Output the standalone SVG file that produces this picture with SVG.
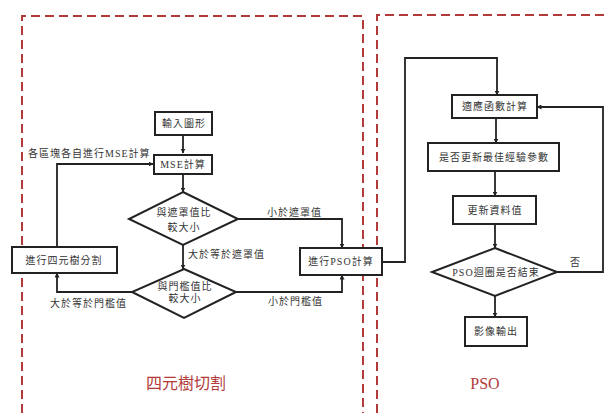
<svg xmlns="http://www.w3.org/2000/svg" width="608" height="413" viewBox="0 0 608 413">
<style>
.bg{fill:#ffffff}
.panel{fill:none;stroke:#b23a3a;stroke-width:2;stroke-dasharray:9 5}
.box{fill:#ffffff;stroke:#222;stroke-width:2}
.edge{fill:none;stroke:#222;stroke-width:1.8}
.t{font-family:'Liberation Serif','Noto Sans CJK TC',serif;font-size:10px;fill:#333;text-anchor:middle;letter-spacing:1px}
.lbl{font-family:'Liberation Serif','Noto Sans CJK TC',serif;font-size:10px;fill:#333;letter-spacing:1px}
.title{font-family:'Liberation Serif','Noto Sans CJK TC',serif;font-size:16px;fill:#b23a3a;text-anchor:middle}
</style>
<defs>
<marker id="ah" viewBox="0 0 10 10" refX="9" refY="5" markerWidth="5" markerHeight="5" orient="auto" markerUnits="userSpaceOnUse">
<path d="M0,0 L10,5 L0,10 z" fill="#222"/>
</marker>
</defs>
<rect class="bg" width="608" height="413"/>
<g id="panels">
<path class="panel" d="M22,413 V16 H363 V413"/>
<path class="panel" d="M377,413 V15 H608"/>
<text class="title" x="186" y="389">四元樹切割</text>
<text class="title" x="485" y="389" font-family="Liberation Serif, serif">PSO</text>
</g>
<g id="connectors">
<path class="edge" d="M183,135 V153" marker-end="url(#ah)"/>
<path class="edge" d="M183,174 V192" marker-end="url(#ah)"/>
<path class="edge" d="M183,245 V269" marker-end="url(#ah)"/>
<path class="edge" d="M238,219 H342 V248" marker-end="url(#ah)"/>
<path class="edge" d="M236,292 H342 V275" marker-end="url(#ah)"/>
<path class="edge" d="M132,292 H57 V273" marker-end="url(#ah)"/>
<path class="edge" d="M57,247 V164 H153" marker-end="url(#ah)"/>
<path class="edge" d="M382,262 H405 V58 H497 V95" marker-end="url(#ah)"/>
<path class="edge" d="M496,118 V143" marker-end="url(#ah)"/>
<path class="edge" d="M495,171 V196" marker-end="url(#ah)"/>
<path class="edge" d="M495,224 V248" marker-end="url(#ah)"/>
<path class="edge" d="M495,296 V317" marker-end="url(#ah)"/>
<path class="edge" d="M557,272 H603 V107 H537" marker-end="url(#ah)"/>
<text class="lbl" x="28" y="157">各區塊各自進行MSE計算</text>
<text class="lbl" x="267" y="216">小於遮罩值</text>
<text class="lbl" x="188" y="258">大於等於遮罩值</text>
<text class="lbl" x="268" y="305">小於門檻值</text>
<text class="lbl" x="50" y="307">大於等於門檻值</text>
<text class="lbl" x="570" y="266">否</text>
</g>
<g id="n_input"><rect class="box" x="155" y="112" width="57" height="23"/><text class="t" x="184" y="127">輸入圖形</text></g>
<g id="n_mse"><rect class="box" x="154" y="155" width="58" height="19"/><text class="t" x="183" y="168">MSE計算</text></g>
<g id="n_mask"><polygon class="box" points="183,192 238,219 183,245 129,219"/><text class="t" x="184" y="216">與遮罩值比</text><text class="t" x="184" y="231">較大小</text></g>
<g id="n_thresh"><polygon class="box" points="184,269 236,292 184,318 132,292"/><text class="t" x="185" y="290">與門檻值比</text><text class="t" x="185" y="302">較大小</text></g>
<g id="n_quad"><rect class="box" x="12" y="247" width="105" height="26"/><text class="t" x="64" y="264">進行四元樹分割</text></g>
<g id="n_pso"><rect class="box" x="300" y="248" width="82" height="27"/><text class="t" x="341" y="265">進行PSO計算</text></g>
<g id="n_fit"><rect class="box" x="452" y="95" width="85" height="23"/><text class="t" x="495" y="110">適應函數計算</text></g>
<g id="n_best"><rect class="box" x="428" y="143" width="131" height="28"/><text class="t" x="494" y="161">是否更新最佳經驗參數</text></g>
<g id="n_update"><rect class="box" x="453" y="196" width="83" height="28"/><text class="t" x="495" y="214">更新資料值</text></g>
<g id="n_loop"><polygon class="box" points="495,248 557,272 495,296 432,272"/><text class="t" x="496" y="276">PSO迴圈是否結束</text></g>
<g id="n_out"><rect class="box" x="465" y="317" width="62" height="29"/><text class="t" x="496" y="335">影像輸出</text></g>
</svg>
